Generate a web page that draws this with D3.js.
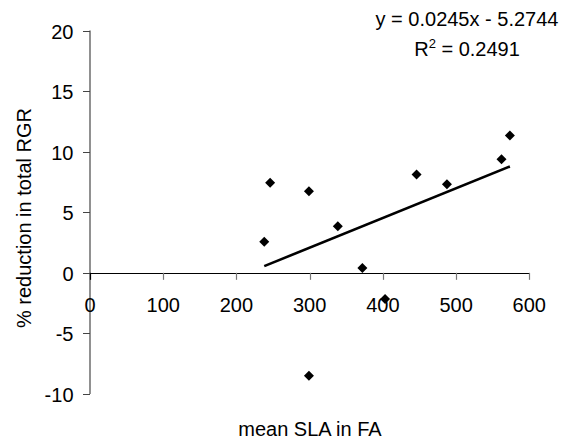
<!DOCTYPE html>
<html>
<head>
<meta charset="utf-8">
<script src="https://cdn.jsdelivr.net/npm/d3@7"></script>
<style>
  html, body { margin: 0; padding: 0; background: #fff; }
  svg { display: block; font-family: "Liberation Sans", Arial, sans-serif; }
</style>
</head>
<body>
<svg id="chart" width="566" height="444"></svg>
<script>
// ---- data ----
const slaX = [238, 246, 299, 299, 338.5, 372, 403, 446, 487.5, 562, 573.5];
const rgrY = [2.56, 7.43, 6.74, -8.5, 3.85, 0.39, -2.15, 8.12, 7.32, 9.38, 11.34];
const trendSlope = 0.0245;
const trendIntercept = -5.2744;
const rSquared = 0.2491;
const xTicks = [0, 100, 200, 300, 400, 500, 600];
const yTicks = [-10, -5, 0, 5, 10, 15, 20];
const xTitle = "mean SLA in FA";
const yTitle = "% reduction in total RGR";

// ---- layout ----
const svg = d3.select("#chart");
const x = d3.scaleLinear().domain([0, 600]).range([90, 529.3]);
const y = d3.scaleLinear().domain([-10, 20]).range([394, 30.5]);
const fontSize = 20;

// y axis
const yAxis = svg.append("g");
yAxis.append("line")
  .attr("x1", x(0)).attr("x2", x(0))
  .attr("y1", y(20)).attr("y2", y(-10))
  .attr("stroke", "#555").attr("stroke-width", 1.3);
yAxis.selectAll("line.tick").data(yTicks).enter().append("line")
  .attr("class", "tick")
  .attr("x1", x(0) - 7).attr("x2", x(0))
  .attr("y1", d => Math.round(y(d)) + 0.5).attr("y2", d => Math.round(y(d)) + 0.5)
  .attr("stroke", "#444").attr("stroke-width", 1);
yAxis.selectAll("text").data(yTicks).enter().append("text")
  .attr("x", 73.5)
  .attr("y", d => y(d) + 8)
  .attr("text-anchor", "end")
  .attr("font-size", fontSize)
  .attr("fill", "#000")
  .text(d => d);

// x axis (crosses at y = 0)
const xAxis = svg.append("g");
xAxis.append("line")
  .attr("x1", x(0)).attr("x2", x(600))
  .attr("y1", Math.round(y(0)) + 0.5).attr("y2", Math.round(y(0)) + 0.5)
  .attr("stroke", "#000").attr("stroke-width", 1.2);
xAxis.selectAll("line.tick").data(xTicks).enter().append("line")
  .attr("class", "tick")
  .attr("x1", d => Math.round(x(d)) + 0.5).attr("x2", d => Math.round(x(d)) + 0.5)
  .attr("y1", y(0)).attr("y2", y(0) + 7)
  .attr("stroke", d => d === 0 ? "#000" : "#777").attr("stroke-width", 1.2);
xAxis.selectAll("text").data(xTicks).enter().append("text")
  .attr("x", d => x(d))
  .attr("y", y(0) + 39)
  .attr("text-anchor", "middle")
  .attr("font-size", fontSize)
  .attr("fill", "#000")
  .text(d => d);

// trend line over data extent
const xExt = d3.extent(slaX);
svg.append("line")
  .attr("x1", x(xExt[0])).attr("y1", y(trendSlope * xExt[0] + trendIntercept))
  .attr("x2", x(xExt[1])).attr("y2", y(trendSlope * xExt[1] + trendIntercept))
  .attr("stroke", "#000").attr("stroke-width", 2.6);

// points (diamonds)
const pts = slaX.map((v, i) => ({ x: v, y: rgrY[i] }));
const sym = d3.symbol().type(d3.symbolSquare).size(50);
svg.append("g").selectAll("path").data(pts).enter().append("path")
  .attr("d", sym)
  .attr("transform", d => `translate(${x(d.x)},${y(d.y)}) rotate(45)`)
  .attr("fill", "#000");

// equation text
const eqX = 467;
svg.append("text")
  .attr("x", eqX).attr("y", 25.5)
  .attr("text-anchor", "middle")
  .attr("font-size", fontSize)
  .text(`y = ${trendSlope}x - ${Math.abs(trendIntercept)}`);
const r2 = svg.append("text")
  .attr("x", eqX).attr("y", 55.5)
  .attr("text-anchor", "middle")
  .attr("font-size", fontSize);
r2.append("tspan").text("R");
r2.append("tspan").attr("font-size", 13).attr("dy", -8).text("2");
r2.append("tspan").attr("dy", 8).text(` = ${rSquared}`);

// axis titles
svg.append("text")
  .attr("x", 310).attr("y", 436)
  .attr("text-anchor", "middle")
  .attr("font-size", fontSize)
  .text(xTitle);
svg.append("text")
  .attr("transform", "translate(30.5,218) rotate(-90)")
  .attr("text-anchor", "middle")
  .attr("font-size", fontSize)
  .text(yTitle);
</script>
</body>
</html>
